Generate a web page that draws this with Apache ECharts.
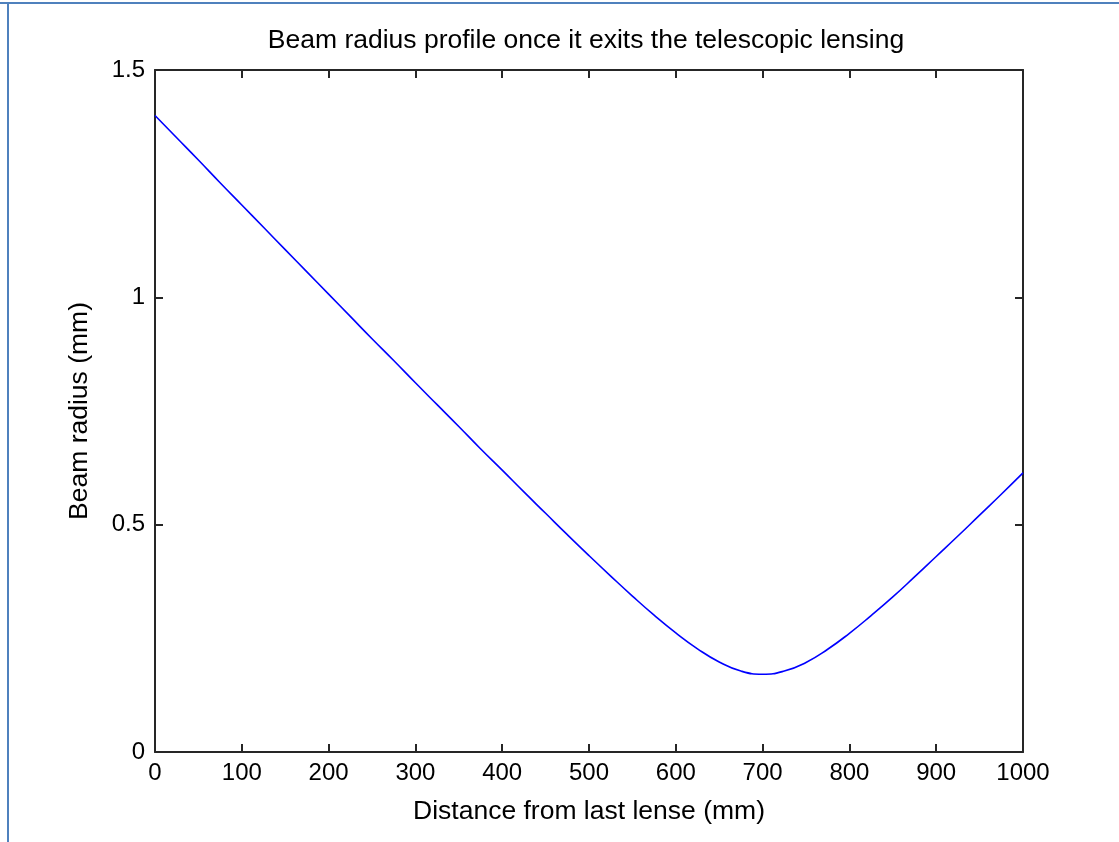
<!DOCTYPE html>
<html>
<head>
<meta charset="utf-8">
<title>Beam radius profile</title>
<script src="https://cdn.jsdelivr.net/npm/echarts@6/dist/echarts.min.js"></script>
<style>
	html, body { margin: 0; padding: 0; background: #fff; }
	#chart { width: 1119px; height: 842px; }
</style>
</head>
<body>
<div id="chart"></div>
<script>
	// distance from last lense (mm)
	var distance = [0, 25, 50, 75, 100, 125, 150, 175, 200, 225, 250, 275, 300, 325, 350, 375, 400,
		425, 450, 475, 500, 525, 550, 575, 600, 625, 650, 675, 700, 725, 750, 775, 800,
		825, 850, 875, 900, 925, 950, 975, 1000];
	// beam radius (mm)
	var radius = [1.400, 1.351, 1.302, 1.252, 1.203, 1.154, 1.105, 1.056, 1.007, 0.958, 0.909, 0.861, 0.812, 0.764, 0.716, 0.667, 0.620,
		0.572, 0.525, 0.478, 0.432, 0.387, 0.343, 0.301, 0.262, 0.227, 0.198, 0.178, 0.171, 0.178, 0.197, 0.226, 0.261,
		0.300, 0.341, 0.385, 0.430, 0.475, 0.521, 0.567, 0.614];
	var xTicks = [0, 1000, 100];
	var yTicks = [0, 1.5, 0.5];

	var points = distance.map(function(d, i) { return [d, radius[i]]; });

	var axisColor = '#262626';
	var font = '"Liberation Sans", Arial, sans-serif';

	function boxAxis(pos, ticks) {
		return {
			type: 'value',
			position: pos,
			min: ticks[0],
			max: ticks[1],
			interval: ticks[2],
			axisLine: { show: true, onZero: false, lineStyle: { color: axisColor, width: 2 } },
			axisTick: { show: true, inside: true, length: 8, lineStyle: { color: axisColor, width: 2 } },
			axisLabel: { show: false },
			splitLine: { show: false }
		};
	}

	var chart = echarts.init(document.getElementById('chart'));
	chart.setOption({
		backgroundColor: '#fff',
		animation: false,
		title: {
			text: 'Beam radius profile once it exits the telescopic lensing',
			left: 581,
			textAlign: 'center',
			top: 22,
			textStyle: { fontFamily: font, fontSize: 26.5, fontWeight: 'normal', color: '#000' }
		},
		grid: { left: 155, right: 96, top: 70, bottom: 90 },
		graphic: [
			{ type: 'line', shape: { x1: 0, y1: 3, x2: 1119, y2: 3 }, style: { stroke: '#4f81bd', lineWidth: 2 } },
			{ type: 'line', shape: { x1: 8, y1: 2, x2: 8, y2: 842 }, style: { stroke: '#4f81bd', lineWidth: 2 } }
		],
		xAxis: [{
			type: 'value',
			position: 'bottom',
			min: xTicks[0],
			max: xTicks[1],
			interval: xTicks[2],
			name: 'Distance from last lense (mm)',
			nameLocation: 'middle',
			nameGap: 46,
			nameTextStyle: { fontFamily: font, fontSize: 26.5, color: '#000' },
			axisLine: { show: true, onZero: false, lineStyle: { color: axisColor, width: 2 } },
			axisTick: { show: true, inside: true, length: 8, lineStyle: { color: axisColor, width: 2 } },
			axisLabel: {
				margin: 9, fontFamily: font, fontSize: 24, color: '#000',
				formatter: function(v) { return String(v); }
			},
			splitLine: { show: false }
		}, boxAxis('top', xTicks)],
		yAxis: [{
			type: 'value',
			position: 'left',
			min: yTicks[0],
			max: yTicks[1],
			interval: yTicks[2],
			name: 'Beam radius (mm)',
			nameLocation: 'middle',
			nameGap: 62,
			nameTextStyle: { fontFamily: font, fontSize: 26.5, color: '#000' },
			axisLine: { show: true, onZero: false, lineStyle: { color: axisColor, width: 2 } },
			axisTick: { show: true, inside: true, length: 8, lineStyle: { color: axisColor, width: 2 } },
			axisLabel: {
				margin: 10, fontFamily: font, fontSize: 24, color: '#000',
				formatter: function(v) { return String(v); }
			},
			splitLine: { show: false }
		}, boxAxis('right', yTicks)],
		series: [{
			type: 'line',
			xAxisIndex: 0,
			yAxisIndex: 0,
			data: points,
			showSymbol: false,
			smooth: true,
			lineStyle: { color: '#0000ff', width: 1.6 },
			itemStyle: { color: '#0000ff' }
		}]
	});
</script>
</body>
</html>
